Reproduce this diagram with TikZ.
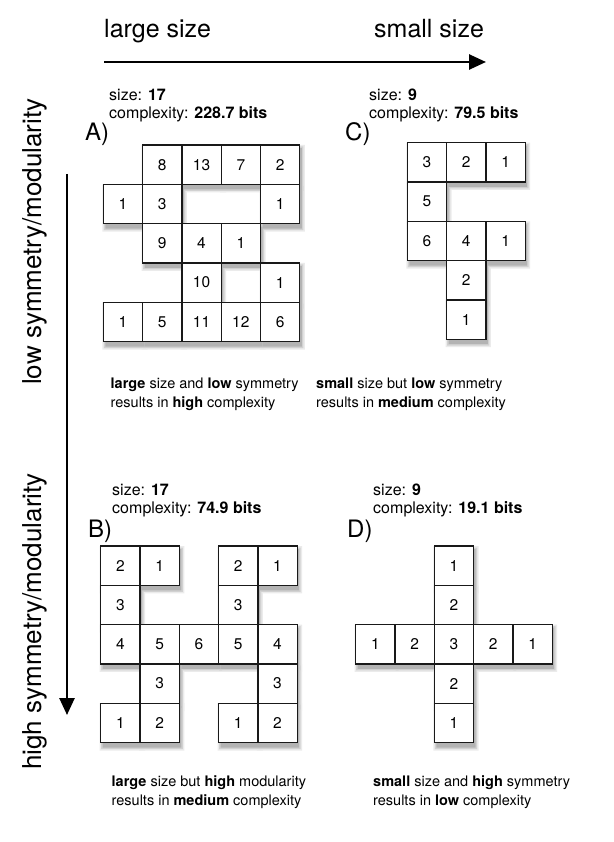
\documentclass[tikz,border=0pt]{standalone}
\usepackage{fontspec}
\setmainfont{TeX Gyre Heros}
\usetikzlibrary{arrows.meta}
\def\cellsA{0/1/8, 0/2/13, 0/3/7, 0/4/2, 1/0/1, 1/1/3, 1/4/1, 2/1/9, 2/2/4, 2/3/1, 3/2/10, 3/4/1, 4/0/1, 4/1/5, 4/2/11, 4/3/12, 4/4/6}
\def\cellsC{0/0/3, 0/1/2, 0/2/1, 1/0/5, 2/0/6, 2/1/4, 2/2/1, 3/1/2, 4/1/1}
\def\cellsB{0/0/2, 0/1/1, 0/3/2, 0/4/1, 1/0/3, 1/3/3, 2/0/4, 2/1/5, 2/2/6, 2/3/5, 2/4/4, 3/1/3, 3/4/3, 4/0/1, 4/1/2, 4/3/1, 4/4/2}
\def\cellsD{0/2/1, 1/2/2, 2/0/1, 2/1/2, 2/2/3, 2/3/2, 2/4/1, 3/2/2, 4/2/1}
\newcommand\drawgrid[4]{%
  \foreach \e/\o in {3/0.08,1.5/0.11,0/0.14} {
    \begin{scope}[transparency group, opacity=\o]
      \foreach \r/\c/\t in #4 {
        \fill[black] ({#2+\c*39.3+2-\e},{#3+\r*39.3+3-\e}) rectangle ({#2+(\c+1)*39.3+2+\e},{#3+(\r+1)*39.3+5+\e});
      }
    \end{scope}
  }
  \foreach \r/\c/\t in #4 {
    \node[cellbox] (#1-\r-\c) at ({#2+(\c+0.5)*39.3},{#3+(\r+0.5)*39.3}) {\t};
  }
}
\tikzset{
  cellbox/.style={draw=black!90, fill=white, line width=1.2pt, minimum size=39.3pt, inner sep=0pt, font=\fontsize{15.5}{19}\selectfont},
  headtxt/.style={anchor=base west, inner sep=0pt, font=\fontsize{25}{30}\selectfont},
  sidetxt/.style={anchor=base west, inner sep=0pt, rotate=90, font=\fontsize{26}{30}\selectfont},
  lbltxt/.style={anchor=base west, inner sep=0pt, font=\fontsize{16}{20}\selectfont},
  tagtxt/.style={anchor=base west, inner sep=0pt, font=\fontsize{24}{28}\selectfont},
  captxt/.style={anchor=base west, inner sep=0pt, font=\fontsize{14.5}{18}\selectfont},
  axisarrow/.style={line width=2.6pt, -{Triangle[length=17pt,width=15pt]}}
}
\begin{document}
\begin{tikzpicture}[x=1pt,y=-1pt]
\useasboundingbox (0,0) rectangle (613,842);
% headers
\node[headtxt] (hl) at (104,38) {large size};
\node[headtxt] (hs) at (374,38) {small size};
\coordinate (h1) at (104,62);
\coordinate (h2) at (486,62);
\draw[axisarrow] (h1) -- (h2);
% vertical axis
\node[sidetxt] (vl) at (41,385) {low symmetry/modularity};
\node[sidetxt] (vh) at (41,770) {high symmetry/modularity};
\coordinate (v1) at (67,174);
\coordinate (v2) at (67,715);
\draw[axisarrow] (v1) -- (v2);
% A
\node[lbltxt] (As) at (109,101) {size: \textbf{17}};
\node[lbltxt] (Ac) at (109,119) {complexity: \textbf{228.7 bits}};
\node[tagtxt] (At) at (85,141) {A)};
\drawgrid{A}{103.3}{145}{\cellsA}
\node[captxt] (Ap1) at (110.5,388) {\textbf{large} size and \textbf{low} symmetry};
\node[captxt] (Ap2) at (110.5,407) {results in \textbf{high} complexity};
% C
\node[lbltxt] (Cs) at (369,101) {size: \textbf{9}};
\node[lbltxt] (Cc) at (369,119) {complexity: \textbf{79.5 bits}};
\node[tagtxt] (Ct) at (345,141) {C)};
\drawgrid{C}{407.3}{142.7}{\cellsC}
\node[captxt] (Cp1) at (316,388) {\textbf{small} size but \textbf{low} symmetry};
\node[captxt] (Cp2) at (316,407) {results in \textbf{medium} complexity};
% B
\node[lbltxt] (Bs) at (112,495) {size: \textbf{17}};
\node[lbltxt] (Bc) at (112,513) {complexity: \textbf{74.9 bits}};
\node[tagtxt] (Bt) at (88,537) {B)};
\drawgrid{B}{100.7}{546}{\cellsB}
\node[captxt] (Bp1) at (111.5,786) {\textbf{large} size but \textbf{high} modularity};
\node[captxt] (Bp2) at (111.5,805) {results in \textbf{medium} complexity};
% D
\node[lbltxt] (Ds) at (373,495) {size: \textbf{9}};
\node[lbltxt] (Dc) at (373,513) {complexity: \textbf{19.1 bits}};
\node[tagtxt] (Dt) at (347,537) {D)};
\drawgrid{D}{355.7}{546}{\cellsD}
\node[captxt] (Dp1) at (373,786) {\textbf{small} size and \textbf{high} symmetry};
\node[captxt] (Dp2) at (373,805) {results in \textbf{low} complexity};
\end{tikzpicture}
\end{document}
